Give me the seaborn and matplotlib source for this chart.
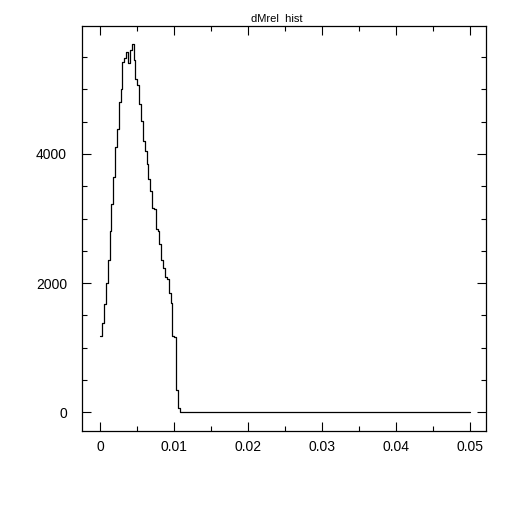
import numpy as np
import pandas as pd
import matplotlib
matplotlib.use("Agg")
import matplotlib.pyplot as plt
import seaborn as sns
from matplotlib.ticker import MultipleLocator, FixedLocator, FixedFormatter

# ---- data ----
title = "dMrel  hist"
x_min, x_max, n_bins = 0.0, 0.05, 200
counts_nonzero = [1180, 1380, 1670, 2000, 2350, 2810, 3220, 3650, 4100, 4390,
                  4810, 5000, 5430, 5490, 5580, 5400, 5610, 5700, 5460, 5160,
                  5060, 4780, 4510, 4200, 4040, 3840, 3610, 3430, 3170, 3150,
                  2830, 2810, 2610, 2350, 2240, 2100, 2060, 1850, 1690, 1180,
                  1170, 350, 60, 10]
counts_zero_tail = [0] * (n_bins - len(counts_nonzero))
x_ticks = [0, 0.01, 0.02, 0.03, 0.04, 0.05]
x_tick_labels = ["0", "0.01", "0.02", "0.03", "0.04", "0.05"]
y_ticks = [0, 2000, 4000]
y_tick_labels = ["0", "2000", "4000"]

counts = counts_nonzero + counts_zero_tail
bin_w = (x_max - x_min) / n_bins
centers = x_min + bin_w * (np.arange(n_bins) + 0.5)
df = pd.DataFrame({"dMrel": centers, "n": counts})

sns.set_theme(style="ticks")
plt.rcParams["font.family"] = ["Liberation Sans", "DejaVu Sans"]

fig = plt.figure(figsize=(5.12, 5.12), dpi=100)
ax = fig.add_axes([0.1607, 0.1588, 0.9498 - 0.1607, 0.9492 - 0.1588])
sns.histplot(data=df, x="dMrel", weights="n", binwidth=bin_w, binrange=(x_min, x_max),
             element="step", fill=False, color="black", linewidth=0.9, ax=ax)

ax.set_xlim(-0.00243, 0.05216)
ax.set_ylim(-285, 5980)
ax.xaxis.set_major_locator(FixedLocator(x_ticks))
ax.xaxis.set_major_formatter(FixedFormatter(x_tick_labels))
ax.xaxis.set_minor_locator(MultipleLocator(0.005))
ax.yaxis.set_major_locator(FixedLocator(y_ticks))
ax.yaxis.set_major_formatter(FixedFormatter(y_tick_labels))
ax.yaxis.set_minor_locator(MultipleLocator(500))
ax.tick_params(which="both", direction="in", top=True, right=True,
               color="black", width=0.8, labelsize=10, labelcolor="black")
ax.tick_params(which="major", length=6.5)
ax.tick_params(which="minor", length=3.4)
ax.tick_params(axis="x", which="major", pad=7)
ax.tick_params(axis="y", which="major", pad=11)
for s in ax.spines.values():
    s.set_visible(True)
    s.set_color("black")
    s.set_linewidth(0.9)
ax.set_xlabel("")
ax.set_ylabel("")
fig.text(277 / 512, 1 - 21.7 / 512, title, ha="center", va="baseline", fontsize=8, color="black")

fig.savefig("out.png", dpi=100, facecolor="white")
